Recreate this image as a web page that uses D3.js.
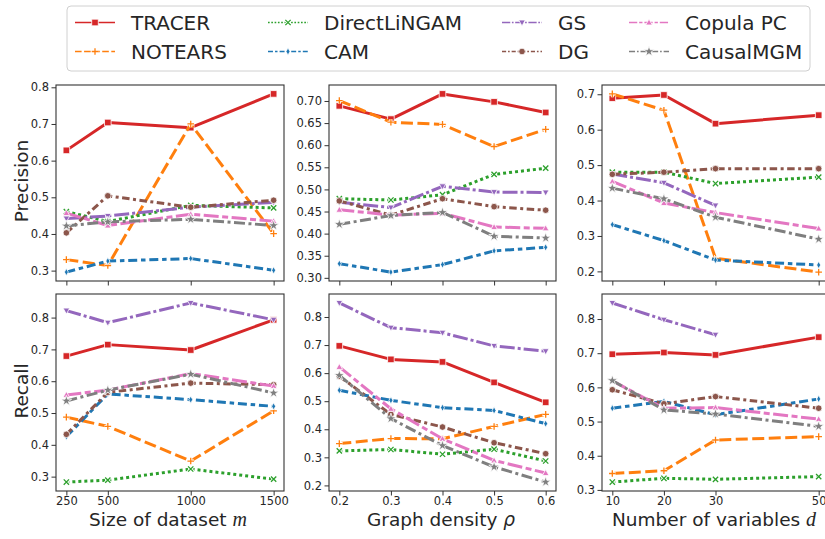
<!DOCTYPE html>
<html>
<head>
<meta charset="utf-8">
<script src="https://cdn.jsdelivr.net/npm/d3@7"></script>
<style>
  body { margin: 0; background: #fff; }
  text { font-family: "DejaVu Sans", sans-serif; fill: #262626; }
</style>
</head>
<body>
<script>
// methods, in legend / drawing order
var methods = ["TRACER", "NOTEARS", "DirectLiNGAM", "CAM", "GS", "DG", "Copula PC", "CausalMGM"];

// x values of the three columns
var sizeM = [250, 500, 1000, 1500];
var densityRho = [0.2, 0.3, 0.4, 0.5, 0.6];
var numVarsD = [10, 20, 30, 50];

// precision, one row per method (same order as methods)
var precSize = [
  [0.628, 0.704, 0.690, 0.782],
  [0.330, 0.314, 0.700, 0.401],
  [0.461, 0.434, 0.478, 0.471],
  [0.296, 0.326, 0.333, 0.301],
  [0.442, 0.449, 0.473, 0.486],
  [0.403, 0.504, 0.473, 0.492],
  [0.457, 0.423, 0.454, 0.435],
  [0.422, 0.433, 0.440, 0.423]
];
var precDensity = [
  [0.689, 0.659, 0.716, 0.698, 0.674],
  [0.701, 0.652, 0.647, 0.597, 0.636],
  [0.479, 0.476, 0.488, 0.534, 0.548],
  [0.332, 0.313, 0.330, 0.361, 0.369],
  [0.471, 0.459, 0.507, 0.494, 0.493],
  [0.474, 0.442, 0.479, 0.461, 0.453],
  [0.454, 0.442, 0.446, 0.415, 0.412],
  [0.421, 0.441, 0.448, 0.394, 0.390]
];
var precVars = [
  [0.689, 0.698, 0.617, 0.641],
  [0.701, 0.655, 0.237, 0.198],
  [0.480, 0.480, 0.448, 0.466],
  [0.332, 0.287, 0.232, 0.218],
  [0.475, 0.450, 0.386, null],
  [0.474, 0.480, 0.490, 0.490],
  [0.454, 0.393, 0.366, 0.321],
  [0.435, 0.405, 0.353, 0.291]
];

// recall
var recSize = [
  [0.679, 0.715, 0.698, 0.793],
  [0.487, 0.458, 0.349, 0.507],
  [0.283, 0.289, 0.324, 0.292],
  [0.426, 0.560, 0.542, 0.521],
  [0.822, 0.784, 0.846, 0.793],
  [0.433, 0.565, 0.594, 0.589],
  [0.557, 0.572, 0.624, 0.585],
  [0.538, 0.572, 0.622, 0.563]
];
var recDensity = [
  [0.697, 0.649, 0.640, 0.567, 0.496],
  [0.349, 0.367, 0.366, 0.410, 0.453],
  [0.323, 0.328, 0.311, 0.329, 0.287],
  [0.539, 0.503, 0.477, 0.467, 0.420],
  [0.850, 0.762, 0.744, 0.697, 0.678],
  [0.589, 0.453, 0.408, 0.352, 0.313],
  [0.622, 0.473, 0.366, 0.289, 0.244],
  [0.592, 0.438, 0.342, 0.266, 0.212]
];
var recVars = [
  [0.697, 0.702, 0.695, 0.747],
  [0.348, 0.356, 0.446, 0.456],
  [0.323, 0.334, 0.331, 0.339],
  [0.539, 0.559, 0.520, 0.566],
  [0.847, 0.798, 0.754, null],
  [0.593, 0.552, 0.573, 0.539],
  [0.619, 0.539, 0.541, 0.507],
  [0.620, 0.534, 0.522, 0.486]
];

// tick labels
var xTicksSize = [250, 500, 1000, 1500];
var xTicksDensity = [0.2, 0.3, 0.4, 0.5, 0.6];
var xTicksVars = [10, 20, 30, 50];
var yTicksPrecSize = [0.3, 0.4, 0.5, 0.6, 0.7, 0.8];
var yTicksPrecDensity = [0.30, 0.35, 0.40, 0.45, 0.50, 0.55, 0.60, 0.65, 0.70];
var yTicksPrecVars = [0.2, 0.3, 0.4, 0.5, 0.6, 0.7];
var yTicksRecSize = [0.3, 0.4, 0.5, 0.6, 0.7, 0.8];
var yTicksRecDensity = [0.2, 0.3, 0.4, 0.5, 0.6, 0.7, 0.8];
var yTicksRecVars = [0.3, 0.4, 0.5, 0.6, 0.7, 0.8];

// styles
var colors = ["#d62728", "#ff7f0e", "#2ca02c", "#1f77b4", "#9467bd", "#8c564b", "#e377c2", "#7f7f7f"];
var dashes = ["", "12,4.5", "3,3", "9,3.8,4.5,3.8", "15,3,3,3", "7.5,3.5,3,3.5", "15,3.5,6,3.5", "11,3.5,3,3.5"];
var markers = ["square", "plus", "x", "thindiamond", "tridown", "circle", "triup", "star"];
var lw = 3;

var width = 825, height = 539;
var svg = d3.select("body").append("svg")
    .attr("width", width)
    .attr("height", height);

var cols = [[56, 284], [329, 556], [602, 829]];
var rows = [[85, 281], [294, 491]];

var panels = [
  {r: 0, c: 0, xs: sizeM, ys: precSize, xt: xTicksSize, yt: yTicksPrecSize, yf: ".1f", xf: "d"},
  {r: 0, c: 1, xs: densityRho, ys: precDensity, xt: xTicksDensity, yt: yTicksPrecDensity, yf: ".2f", xf: ".1f"},
  {r: 0, c: 2, xs: numVarsD, ys: precVars, xt: xTicksVars, yt: yTicksPrecVars, yf: ".1f", xf: "d"},
  {r: 1, c: 0, xs: sizeM, ys: recSize, xt: xTicksSize, yt: yTicksRecSize, yf: ".1f", xf: "d"},
  {r: 1, c: 1, xs: densityRho, ys: recDensity, xt: xTicksDensity, yt: yTicksRecDensity, yf: ".1f", xf: ".1f"},
  {r: 1, c: 2, xs: numVarsD, ys: recVars, xt: xTicksVars, yt: yTicksRecVars, yf: ".1f", xf: "d"}
];

// matplotlib-like autoscale: 5% margin on each side
function padded(ext) {
  var m = (ext[1] - ext[0]) * 0.05;
  return [ext[0] - m, ext[1] + m];
}

function markerPath(kind, s) {
  switch (kind) {
    case "square": return "M" + (-s) + "," + (-s) + "H" + s + "V" + s + "H" + (-s) + "Z";
    case "plus": return "M" + (-s) + ",0H" + s + "M0," + (-s) + "V" + s;
    case "x": var k = s * 0.8; return "M" + (-k) + "," + (-k) + "L" + k + "," + k + "M" + (-k) + "," + k + "L" + k + "," + (-k);
    case "thindiamond": return "M0," + (-s * 1.1) + "L" + (s * 0.6) + ",0L0," + (s * 1.1) + "L" + (-s * 0.6) + ",0Z";
    case "tridown": return "M" + (-s) + "," + (-s * 0.75) + "L" + s + "," + (-s * 0.75) + "L0," + (s * 1.05) + "Z";
    case "triup": return "M" + (-s) + "," + (s * 0.75) + "L" + s + "," + (s * 0.75) + "L0," + (-s * 1.05) + "Z";
    case "circle": return d3.symbol(d3.symbolCircle, Math.PI * s * s)();
    case "star": return d3.symbol(d3.symbolStar, s * s * 3.2)();
  }
}

function drawMarker(g, kind, color, x, y, s) {
  var open = (kind === "plus" || kind === "x");
  if (open) {
    g.append("path").attr("d", markerPath(kind, s))
      .attr("transform", "translate(" + x + "," + y + ")")
      .attr("stroke", "#fff").attr("stroke-width", 3).attr("fill", "none");
    g.append("path").attr("d", markerPath(kind, s))
      .attr("transform", "translate(" + x + "," + y + ")")
      .attr("stroke", color).attr("stroke-width", 1.3).attr("fill", "none");
  } else {
    g.append("path").attr("d", markerPath(kind, s))
      .attr("transform", "translate(" + x + "," + y + ")")
      .attr("fill", color).attr("stroke", "#fff").attr("stroke-width", 0.8);
  }
}

panels.forEach(function(p) {
  var x0 = cols[p.c][0], x1 = cols[p.c][1];
  var y0 = rows[p.r][0], y1 = rows[p.r][1];

  var x = d3.scaleLinear().domain(padded(d3.extent(p.xs))).range([x0, x1]);
  var allY = [].concat.apply([], p.ys).filter(function(v) { return v != null; });
  var y = d3.scaleLinear().domain(padded(d3.extent(allY))).range([y1, y0]);

  var g = svg.append("g");

  var line = d3.line()
      .defined(function(d) { return d[1] != null; })
      .x(function(d) { return x(d[0]); })
      .y(function(d) { return y(d[1]); });

  p.ys.forEach(function(vals, i) {
    var pts = p.xs.map(function(xv, j) { return [xv, vals[j]]; });
    g.append("path")
      .datum(pts)
      .attr("d", line)
      .attr("fill", "none")
      .attr("stroke", colors[i])
      .attr("stroke-width", lw)
      .attr("stroke-dasharray", dashes[i] || null)
      .attr("stroke-linejoin", "round");
    pts.forEach(function(pt) {
      if (pt[1] == null) return;
      drawMarker(g, markers[i], colors[i], x(pt[0]), y(pt[1]), 3.3);
    });
  });

  // axes
  var xAxis = d3.axisBottom(x).tickValues(p.xt).tickSize(4.5).tickPadding(1.5)
      .tickFormat(p.r === 1 ? d3.format(p.xf) : "");
  var yAxis = d3.axisLeft(y).tickValues(p.yt).tickSize(4.5).tickPadding(2.5)
      .tickFormat(d3.format(p.yf));

  var gx = svg.append("g").attr("transform", "translate(0," + y1 + ")").call(xAxis);
  var gy = svg.append("g").attr("transform", "translate(" + x0 + ",0)").call(yAxis);
  [gx, gy].forEach(function(a) {
    a.select(".domain").remove();
    a.selectAll(".tick line").attr("stroke", "#333").attr("stroke-width", 1);
    a.selectAll(".tick text").style("font-size", "11.5px").attr("fill", "#262626");
  });

  svg.append("rect")
    .attr("x", x0).attr("y", y0)
    .attr("width", x1 - x0).attr("height", y1 - y0)
    .attr("fill", "none").attr("stroke", "#333").attr("stroke-width", 1.1);
});

// y labels
[["Precision", 181], ["Recall", 391]].forEach(function(l) {
  svg.append("text")
    .attr("transform", "translate(28," + l[1] + ") rotate(-90)")
    .attr("text-anchor", "middle")
    .style("font-size", "18.5px")
    .text(l[0]);
});

// x labels with math-italic symbol
[["Size of dataset ", "m", 168], ["Graph density ", "\u03c1", 441], ["Number of variables ", "d", 714]].forEach(function(l) {
  var t = svg.append("text")
    .attr("x", l[2]).attr("y", 526)
    .attr("text-anchor", "middle")
    .style("font-size", "18.5px");
  t.append("tspan").text(l[0]);
  t.append("tspan").text(l[1])
    .style("font-family", l[1] === "\u03c1" ? "DejaVu Sans" : "Liberation Serif")
    .style("font-style", "italic")
    .style("font-size", l[1] === "\u03c1" ? "18.5px" : "20px");
});

// legend
var leg = svg.append("g");
leg.append("rect")
  .attr("x", 67).attr("y", 6).attr("width", 743).attr("height", 65)
  .attr("rx", 4).attr("fill", "#fff").attr("stroke", "#d0d0d0").attr("stroke-width", 1);

var legColX = [75, 268, 502, 629];
var legRowY = [22.5, 51.5];
methods.forEach(function(name, i) {
  var c = Math.floor(i / 2), r = i % 2;
  var lx = legColX[c], ly = legRowY[r];
  leg.append("line")
    .attr("x1", lx).attr("x2", lx + 40).attr("y1", ly).attr("y2", ly)
    .attr("stroke", colors[i]).attr("stroke-width", 1.6)
    .attr("stroke-dasharray", dashes[i] ? dashes[i].split(",").map(function(v) { return v * 0.55; }).join(",") : null);
  drawMarker(leg, markers[i], colors[i], lx + 20, ly, 3.3);
  leg.append("text")
    .attr("x", lx + 56).attr("y", ly + 7)
    .style("font-size", "20px")
    .text(name);
});
</script>
</body>
</html>
